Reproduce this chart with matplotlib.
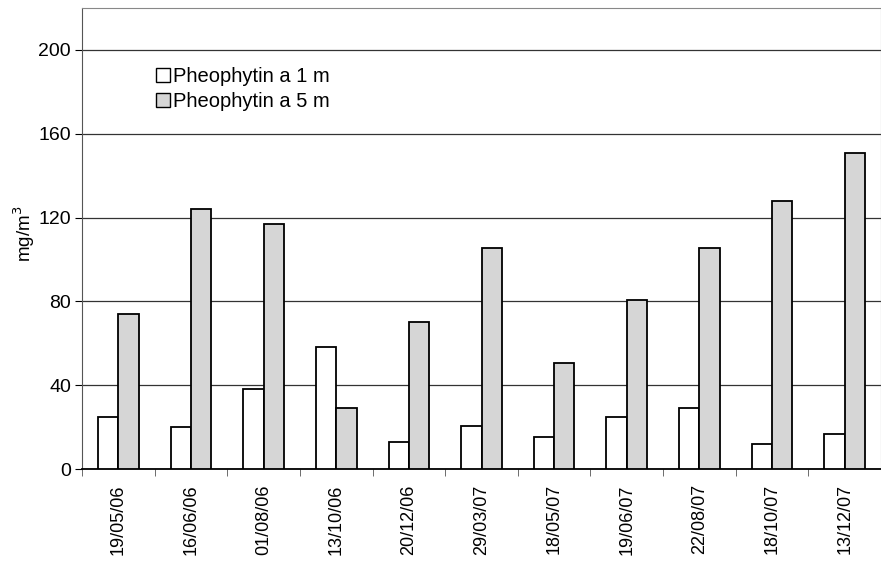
import numpy as np
import matplotlib.pyplot as plt
from matplotlib.patches import Patch

plt.rcParams['font.family'] = ['Liberation Sans', 'DejaVu Sans']

dates = ['19/05/06', '16/06/06', '01/08/06', '13/10/06', '20/12/06', '29/03/07',
         '18/05/07', '19/06/07', '22/08/07', '18/10/07', '13/12/07']
pheo_1m = [25, 20, 38, 58, 13, 20.5, 15.5, 25, 29, 12, 16.5]
pheo_5m = [74, 124, 117, 29, 70, 105.5, 50.5, 80.5, 105.5, 128, 151]

fig = plt.figure(figsize=(8.81, 5.67), dpi=100)
ax = fig.add_axes([82/881, 98/567, 799/881, 461/567])

x = np.arange(len(dates))
w = 0.28
ax.bar(x - w/2, pheo_1m, w, color='white', edgecolor='black', linewidth=1.3, zorder=3)
ax.bar(x + w/2, pheo_5m, w, color='#d6d6d6', edgecolor='black', linewidth=1.3, zorder=3)

ax.set_xlim(-0.5, len(dates) - 0.5)
ax.set_ylim(0, 220)
ax.set_yticks([0, 40, 80, 120, 160, 200])
ax.yaxis.grid(True, color='#333333', linewidth=0.9, zorder=0)
ax.set_axisbelow(True)

ax.set_xticks(x)
ax.set_xticklabels(dates, rotation=90, fontsize=13)
ax.set_xticks(np.arange(len(dates) + 1) - 0.5, minor=True)
ax.tick_params(axis='x', which='major', length=0, pad=11)
ax.tick_params(axis='x', which='minor', length=5, color='#555555')
ax.tick_params(axis='y', labelsize=14, length=5, pad=3)

ax.set_ylabel('mg/m$^3$', fontsize=13.5)
ax.yaxis.set_label_coords(-0.056, 0.51)

for s in ['top', 'right']:
    ax.spines[s].set_color('#888888')
    ax.spines[s].set_linewidth(0.8)
ax.spines['left'].set_color('#555555')
ax.spines['bottom'].set_color('black')
ax.spines['bottom'].set_linewidth(1.3)

handles = [Patch(facecolor='white', edgecolor='black', linewidth=1.0),
           Patch(facecolor='#d6d6d6', edgecolor='black', linewidth=1.0)]
ax.legend(handles, ['Pheophytin a 1 m', 'Pheophytin a 5 m'], loc='upper left',
          bbox_to_anchor=(0.083, 0.89), frameon=False, fontsize=14.5,
          handlelength=0.7, handleheight=0.7, handletextpad=0.15,
          labelspacing=0.3, borderaxespad=0)

fig.savefig('out.png', dpi=100)
